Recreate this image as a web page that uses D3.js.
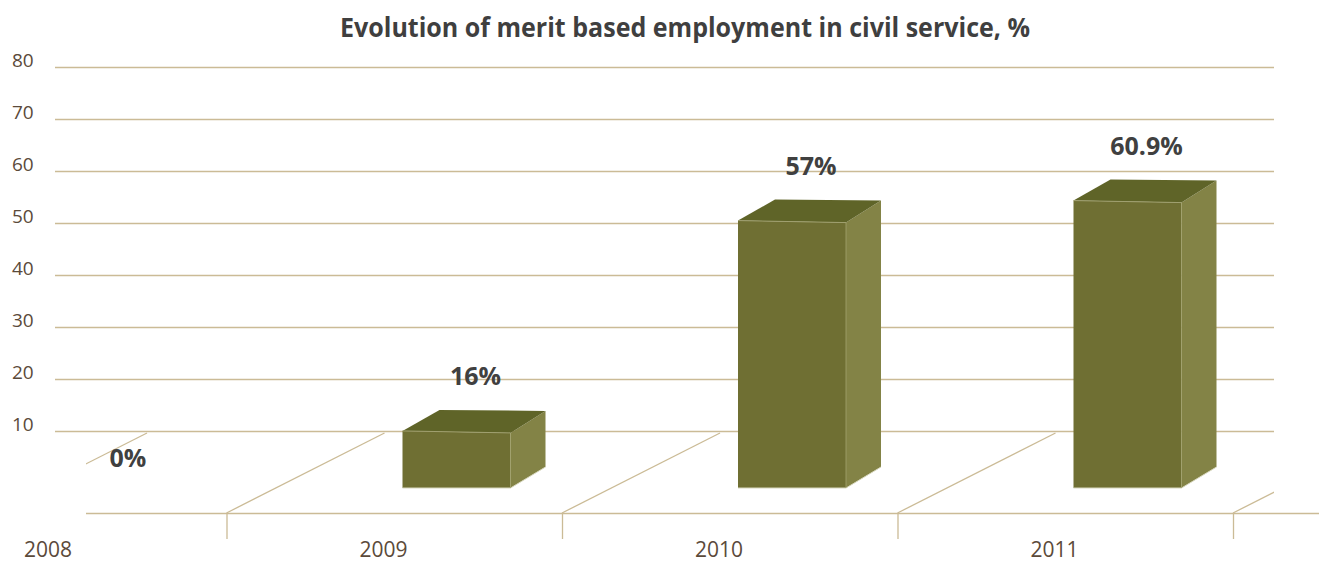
<!DOCTYPE html>
<html>
<head>
<meta charset="utf-8">
<script src="https://cdn.jsdelivr.net/npm/d3@7"></script>
<style>
  html, body { margin: 0; padding: 0; background: #ffffff; }
  svg { display: block; }
</style>
</head>
<body>
<svg id="chart" width="1319" height="562"></svg>
<script>
// ---- data ----
const years = ["2008", "2009", "2010", "2011"];
const values = [0, 16, 57, 60.9];
const valueLabels = ["0%", "16%", "57%", "60.9%"];
const gridTicks = [10, 20, 30, 40, 50, 60, 70, 80];
const title = "Evolution of merit based employment in civil service, %";

// ---- layout ----
const W = 1319, H = 562;
const gridColor = "#cbbb96";
const svg = d3.select("#chart");

// wall (grid) scale
const yGrid = d3.scaleLinear().domain([0, 80]).range([483, 67]);
// bar scale (3D projection from floor line)
const yBar = d3.scaleLinear().domain([0, 100]).range([513, 0]);
const x = d3.scaleBand().domain(years).range([-109, 1233]).padding(0);

const floorY = 513, barBase = 488, barW = 108, depthX = 35, depthY = 21;
const gridX0 = 55, gridX1 = 1274;

// title
svg.append("text")
  .attr("x", 685).attr("y", 37)
  .attr("text-anchor", "middle")
  .attr("font-family", "'Open Sans', sans-serif")
  .attr("font-weight", "bold")
  .attr("font-size", 26)
  .attr("fill", "#3f3f3f")
  .attr("textLength", 690)
  .attr("lengthAdjust", "spacingAndGlyphs")
  .text(title);

// gridlines
svg.append("g").selectAll("line").data(gridTicks).join("line")
  .attr("x1", gridX0).attr("x2", gridX1)
  .attr("y1", d => Math.round(yGrid(d)) + 0.5)
  .attr("y2", d => Math.round(yGrid(d)) + 0.5)
  .attr("stroke", gridColor).attr("stroke-width", 1.3);

// y tick labels
svg.append("g").selectAll("text").data(gridTicks).join("text")
  .attr("x", 12)
  .attr("y", d => yGrid(d) - 0.5)
  .attr("font-family", "'Open Sans', sans-serif")
  .attr("font-size", 19)
  .attr("fill", "#5b4a3a")
  .text(d => d);

// floor line
svg.append("line")
  .attr("x1", 86).attr("x2", W)
  .attr("y1", floorY + 0.5).attr("y2", floorY + 0.5)
  .attr("stroke", gridColor).attr("stroke-width", 1.3);

// floor ticks
const tickXs = years.slice(1).map(y => x(y)).concat([x.range()[1]]);
svg.append("g").selectAll("line").data(tickXs).join("line")
  .attr("x1", d => d + 0.5).attr("x2", d => d + 0.5)
  .attr("y1", floorY).attr("y2", floorY + 26)
  .attr("stroke", gridColor).attr("stroke-width", 1.3);

// floor diagonals (clipped to grid area)
svg.append("clipPath").attr("id", "floorClip")
  .append("rect").attr("x", 86).attr("y", 0).attr("width", gridX1 - 86).attr("height", H);
const slope = 80 / 158;
const diagStarts = [x("2008") + 98].concat(tickXs);
svg.append("g").attr("clip-path", "url(#floorClip)")
  .selectAll("line").data(diagStarts).join("line")
  .attr("x1", d => d).attr("y1", floorY)
  .attr("x2", d => d + 80 / slope).attr("y2", floorY - 80)
  .attr("stroke", gridColor).attr("stroke-width", 1.3);

// bars
const barData = years.map((y, i) => ({ year: y, value: values[i], label: valueLabels[i] }));
const bars = svg.append("g").selectAll("g").data(barData.filter(d => yBar(d.value) < barBase)).join("g");

bars.each(function(d) {
  const g = d3.select(this);
  const x0 = x(d.year) + 176, x1 = x0 + barW;
  const yt = yBar(d.value);
  // right side
  g.append("path")
    .attr("d", `M${x1},${yt + 2} L${x1 + depthX},${yt + 2 - depthY - 1} L${x1 + depthX},${barBase - depthY} L${x1},${barBase} Z`)
    .attr("fill", "#838346");
  // top
  g.append("path")
    .attr("d", `M${x0},${yt} L${x0 + depthX + 2},${yt - depthY} L${x1 + depthX},${yt - depthY + 1} L${x1},${yt + 2} Z`)
    .attr("fill", "#5f6428");
  // front
  g.append("path")
    .attr("d", `M${x0},${yt} L${x1},${yt + 2} L${x1},${barBase} L${x0},${barBase} Z`)
    .attr("fill", "#6f6f33");
  // highlight edges
  g.append("path")
    .attr("d", `M${x0},${yt} L${x1},${yt + 2}`)
    .attr("stroke", "#a0a070").attr("stroke-width", 1).attr("fill", "none");
  g.append("path")
    .attr("d", `M${x0},${barBase} L${x1},${barBase} L${x1 + depthX},${barBase - depthY}`)
    .attr("stroke", "#d8d8bf").attr("stroke-width", 1).attr("fill", "none");
  g.append("path")
    .attr("d", `M${x1},${yt + 2} L${x1},${barBase}`)
    .attr("stroke", "#a3a370").attr("stroke-width", 0.8).attr("fill", "none");
});

// value labels
svg.append("g").selectAll("text").data(barData).join("text")
  .attr("x", d => d.value > 0 ? x(d.year) + 249 : x(d.year) + 237)
  .attr("y", d => yBar(d.value) - 46)
  .attr("text-anchor", "middle")
  .attr("font-family", "'Open Sans', sans-serif")
  .attr("font-weight", "bold")
  .attr("font-size", 25)
  .attr("fill", "#404040")
  .text(d => d.label);

// category labels
svg.append("g").selectAll("text").data(years).join("text")
  .attr("x", d => x(d) + 157)
  .attr("y", 557)
  .attr("text-anchor", "middle")
  .attr("font-family", "'Open Sans', sans-serif")
  .attr("font-size", 21)
  .attr("fill", "#5b4a3a")
  .text(d => d);
</script>
</body>
</html>
